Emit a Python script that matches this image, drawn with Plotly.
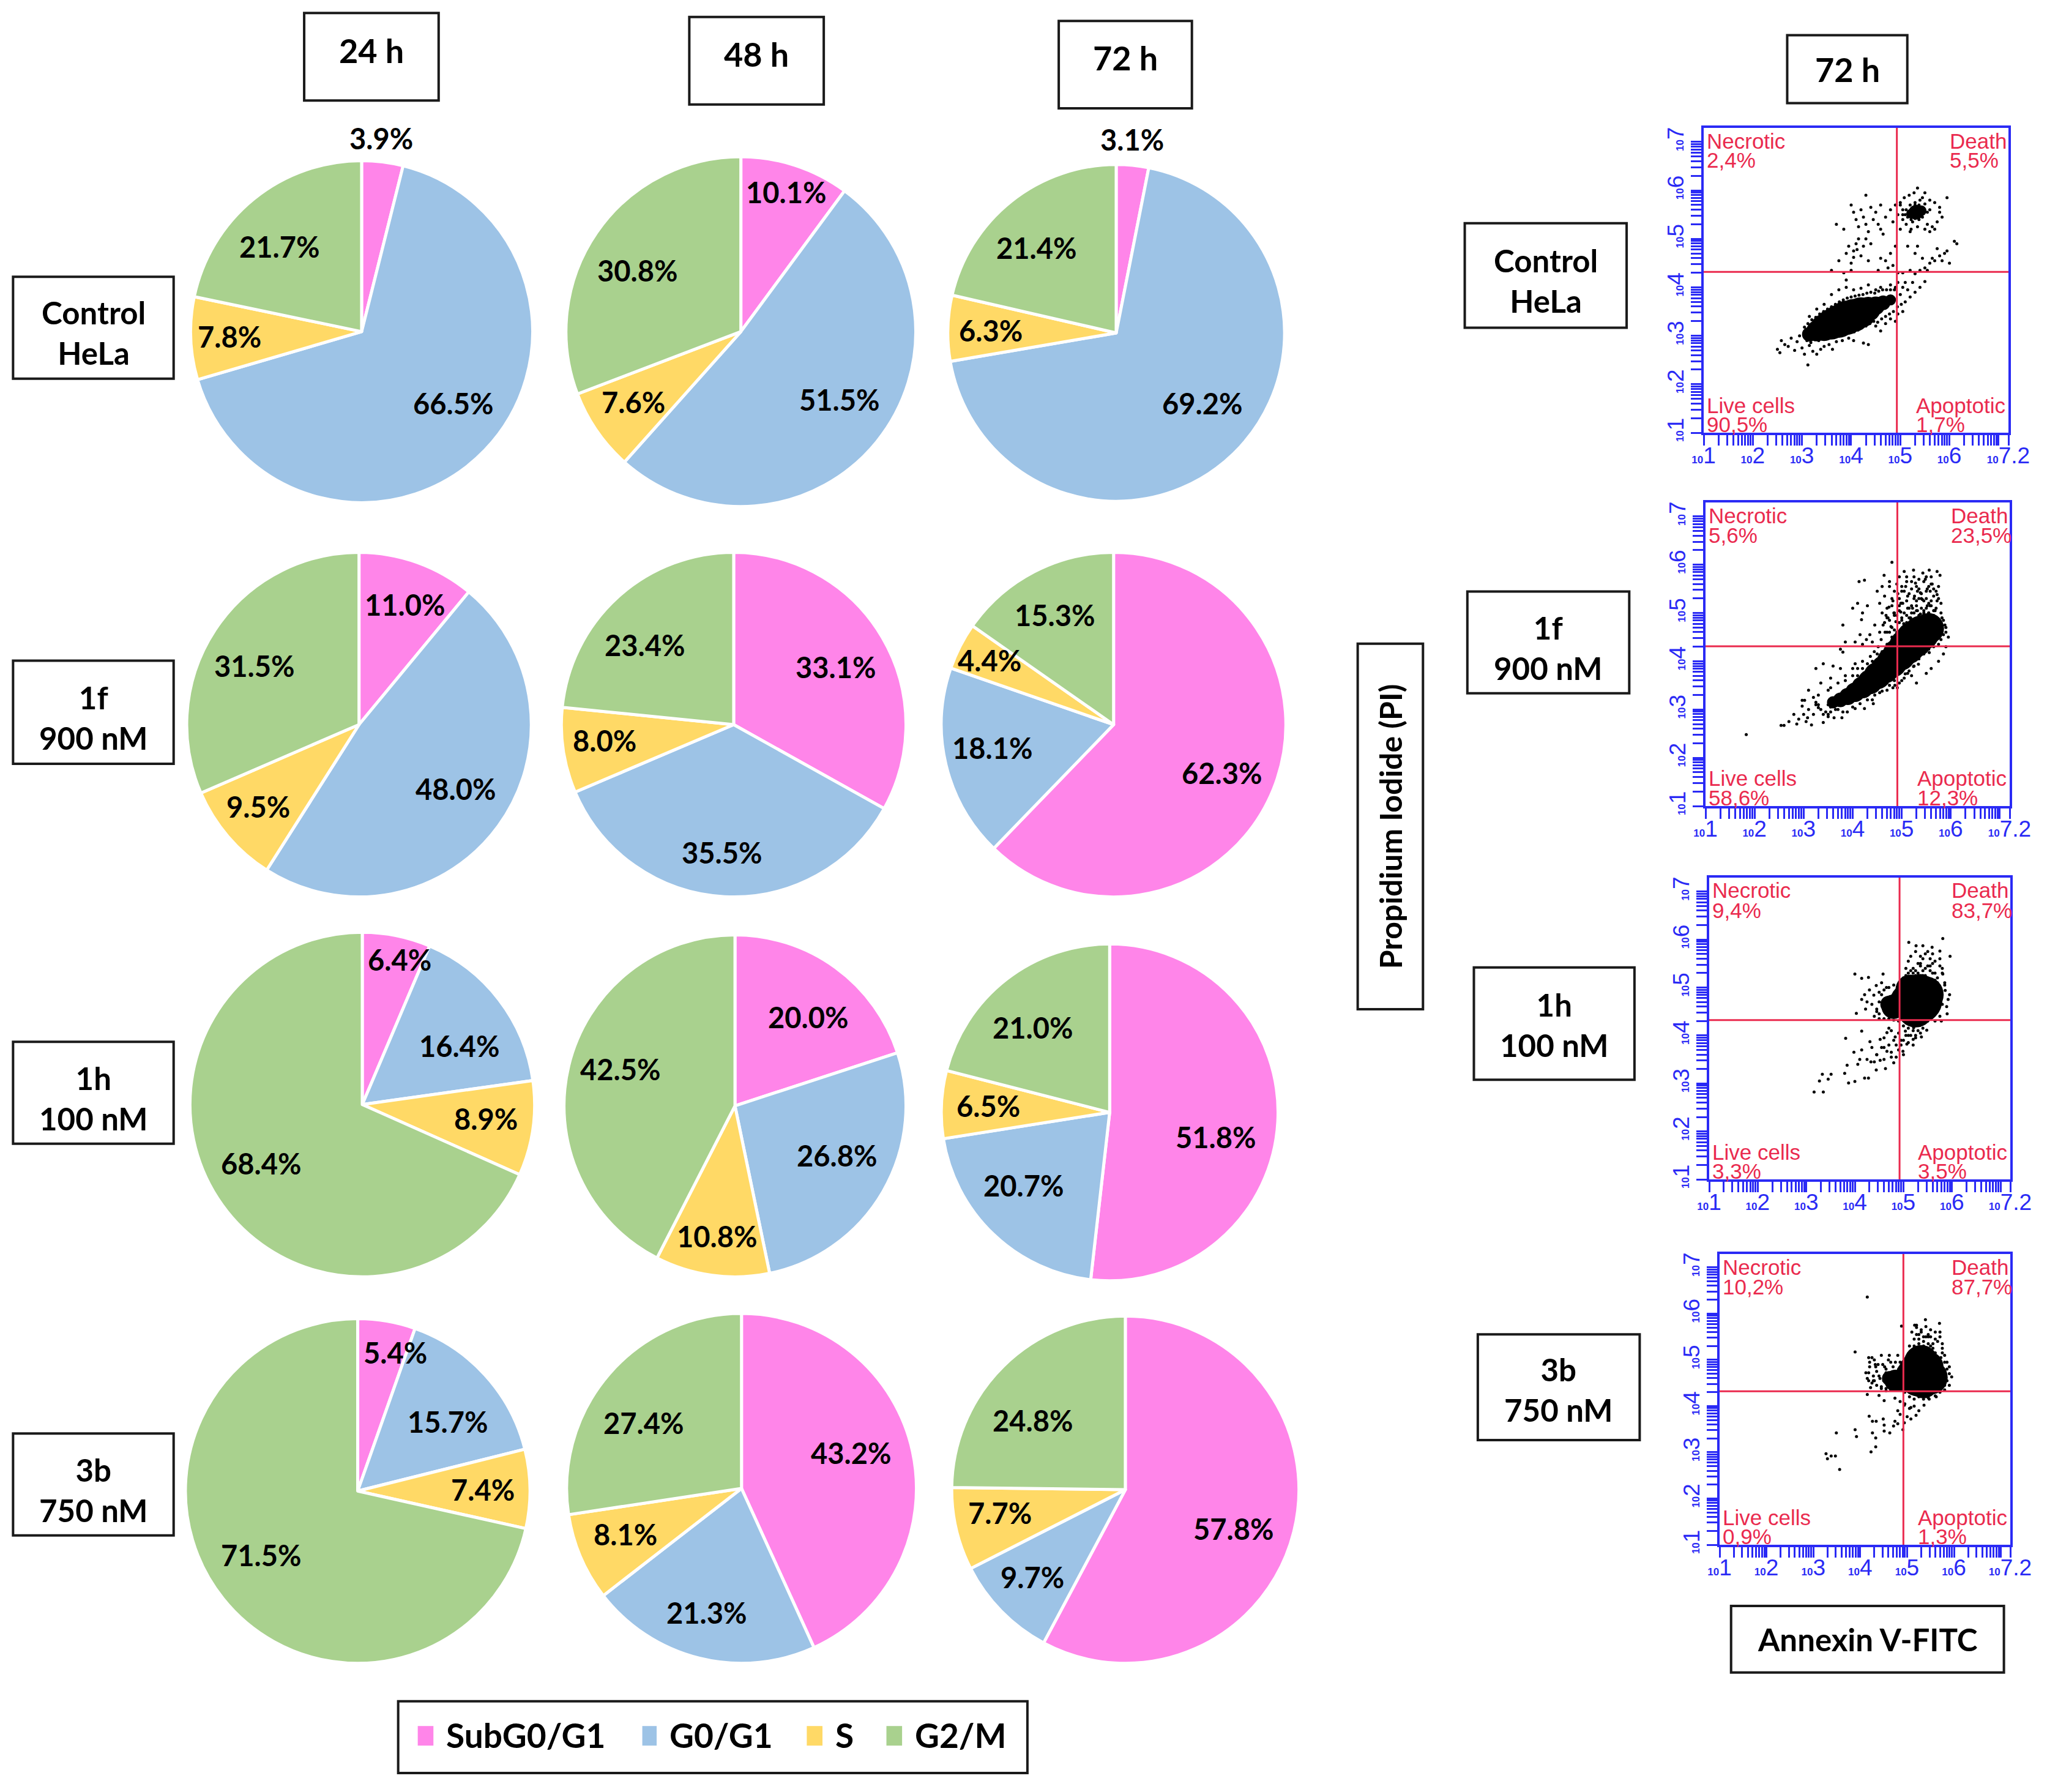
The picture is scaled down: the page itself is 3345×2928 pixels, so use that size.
import plotly.graph_objects as go

W, H = 3345, 2928
S = W / 1568  # reference overview scale used for the layout measurements

phases = ["SubG0/G1", "G0/G1", "S", "G2/M"]
phase_colors = ["#FF85E9", "#9DC3E6", "#FFD966", "#A9D18E"]
times = ["24 h", "48 h", "72 h"]
conditions = ["Control<br>HeLa", "1f<br>900 nM", "1h<br>100 nM", "3b<br>750 nM"]

ctrl_24 = [3.9, 66.5, 7.8, 21.7]
ctrl_48 = [10.1, 51.5, 7.6, 30.8]
ctrl_72 = [3.1, 69.2, 6.3, 21.4]
f1_24 = [11.0, 48.0, 9.5, 31.5]
f1_48 = [33.1, 35.5, 8.0, 23.4]
f1_72 = [62.3, 18.1, 4.4, 15.3]
h1_24 = [6.4, 16.4, 8.9, 68.4]
h1_48 = [20.0, 26.8, 10.8, 42.5]
h1_72 = [51.8, 20.7, 6.5, 21.0]
b3_24 = [5.4, 15.7, 7.4, 71.5]
b3_48 = [43.2, 21.3, 8.1, 27.4]
b3_72 = [57.8, 9.7, 7.7, 24.8]
pie_values = [ctrl_24, ctrl_48, ctrl_72, f1_24, f1_48, f1_72,
              h1_24, h1_48, h1_72, b3_24, b3_48, b3_72]

# pie geometry: centre x, centre y, radius
pie_geom = [(277, 254, 131), (567.5, 254, 134), (855, 255, 129),
            (275, 555, 132), (562, 555, 132), (853, 555, 132),
            (277.5, 846, 132), (563, 847, 131), (850, 852, 129),
            (274, 1142, 132), (568, 1140, 134), (862, 1141, 133)]
# slice label positions
pie_label_pos = [
    [(292, 106), (347, 309), (176, 258), (214, 189)],
    [(602, 147), (643, 306), (485, 308), (488, 207)],
    [(867, 107), (921, 309), (759, 253), (794, 190)],
    [(310, 463), (349, 604), (198, 618), (195, 510)],
    [(640, 511), (553, 653), (463, 567), (494, 494)],
    [(936, 592), (760, 573), (758, 506), (808, 471)],
    [(306, 735), (352, 801), (372, 857), (200, 891)],
    [(619, 779), (641, 885), (549, 947), (475, 819)],
    [(931, 871), (784, 908), (757, 847), (791, 787)],
    [(303, 1036), (343, 1089), (370, 1141), (200, 1191)],
    [(652, 1113), (541, 1235), (479, 1175), (493, 1090)],
    [(945, 1171), (791, 1208), (766, 1159), (791, 1088)],
]

# boxed titles: text, x0, y0, x1, y1, font size, text shift
boxes = [
    (times[0], 233, 10, 336, 77, 54, -5), (times[1], 528, 13, 631, 80, 54, -5), (times[2], 811, 16, 913, 83, 54, -5),
    (conditions[0], 10, 212, 133, 290, 51, 4), (conditions[1], 10, 506, 133, 585, 51, 4),
    (conditions[2], 10, 798, 133, 876, 51, 4), (conditions[3], 10, 1098, 133, 1176, 51, 4),
    ("72 h", 1369, 27, 1461, 79, 54, 0),
    (conditions[0], 1122, 171, 1246, 251, 51, 4), (conditions[1], 1124, 453, 1248, 531, 51, 4),
    (conditions[2], 1129, 741, 1252, 827, 51, 1), (conditions[3], 1132, 1022, 1256, 1103, 51, 2),
    ("Annexin V-FITC", 1326, 1230, 1535, 1281, 51, 0),
]
legend_box = (305, 1303, 787, 1358)
pi_box = (1040, 493, 1090, 773)
pi_title = "Propidium Iodide (PI)"
swatches = [(320, 332), (492, 503), (618, 630), (679, 691)]
legend_text_x = [341, 512, 639, 700]

# flow cytometry panels: pixel frame left, top, right, bottom
flow_frames = [(2784, 209, 3282, 707), (2787, 821, 3284, 1317),
               (2793, 1434, 3285, 1927), (2810, 2049, 3285, 2524)]
quadrant_names = ["Necrotic", "Death", "Live cells", "Apoptotic"]
flow_pct = [["2,4%", "5,5%", "90,5%", "1,7%"], ["5,6%", "23,5%", "58,6%", "12,3%"],
            ["9,4%", "83,7%", "3,3%", "3,5%"], ["10,2%", "87,7%", "0,9%", "1,3%"]]
gate_x = [4.93, 4.91, 4.92, 4.92]
gate_y = [4.32, 4.31, 4.32, 4.32]

# event positions in decades (log10 of signal)
dots1_x = [2.5,2.55,2.58,2.65,2.72,2.78,2.85,2.9,2.95,3.0,3.05,3.12,3.15,3.22,3.3,3.38,3.45,3.55,3.62,3.7,3.82,3.95,4.05,4.25,4.35,
           3.15,3.3,3.45,3.6,3.75,3.9,4.05,4.2,4.35,4.5,4.6,
           4.5,4.6,4.7,4.8,4.9,4.95,5.05,5.1,5.2,5.15,5.3,5.4,5.05,5.0,4.9,4.8,4.95,5.1,5.25,5.5,
           4.95,5.05,5.2,5.3,5.4,5.5,5.6,5.7,5.65,5.8,5.9,5.95,5.75,5.85,5.55,5.45,5.3,5.15,5.35,6.0,6.1,6.15,
           3.6,3.85,3.9,4.0,3.75,3.9,3.95,4.0,4.05,4.1,4.15,4.2,4.25,4.3,4.35,4.05,4.12,4.4,3.7,3.85,4.55,4.6,4.7,4.75,4.8,4.9,4.85,
           4.0,4.05,4.1,4.15,4.2,4.25,4.3,4.35,4.4,4.45,4.3,4.5,4.55,4.6,4.65,4.7,4.8,4.85,4.9,4.95,5.0,5.05,4.6,
           5.0,5.08,5.12,5.18,5.22,5.28,5.35,5.4,5.45,5.5,5.55,5.6,5.65,5.7,5.75,5.8,5.85,5.95,5.5,5.35,5.2,5.05,5.6,5.7,5.25,5.1,5.3,5.45,5.8,
           3.05,3.12,3.2,3.28,3.36,3.44,3.52,3.6,3.68,3.76,3.84,3.92,4.0,4.08,4.16,4.24,4.32,4.4,4.48,4.56,4.64,4.72,4.8,4.88,
           3.1,3.18,3.26,3.34,3.42,3.5,3.58,3.66,3.74,3.82,3.9,3.98,4.06,4.14,4.22,4.3,4.38,4.46,4.54,4.62,4.7,4.78,4.86,4.94,5.02,
           5.2,5.25,5.3,5.38,5.45,5.5,5.55,5.6,5.15,5.22,5.3,5.38,5.45,5.12,5.05,5.0]
dots1_y = [2.72,2.65,2.9,2.82,2.78,2.95,2.7,2.88,3.0,2.75,2.62,2.4,2.8,2.68,2.62,2.72,2.78,2.82,2.72,2.88,2.9,2.95,2.9,2.85,2.82,
           3.4,3.55,3.65,3.85,3.95,4.0,3.95,3.98,4.05,3.95,4.0,
           3.2,3.1,3.25,3.35,3.3,3.45,3.5,3.7,3.8,3.95,3.9,4.0,4.0,3.85,4.0,4.05,4.1,4.1,4.1,4.12,
           4.3,4.3,4.35,4.28,4.35,4.4,4.5,4.55,4.6,4.65,4.7,4.75,4.8,4.55,4.35,4.6,4.7,4.85,4.85,4.5,4.95,4.9,
           4.35,4.3,4.15,4.35,4.55,4.7,4.85,4.5,4.75,4.9,5.0,4.65,4.85,5.0,4.55,4.62,4.78,4.9,5.3,5.2,4.35,4.6,4.55,4.4,4.7,4.85,4.45,
           5.7,5.55,5.4,5.25,5.6,5.45,5.3,5.15,5.65,5.4,5.9,5.55,5.3,5.7,5.1,5.45,5.6,5.35,5.7,5.5,5.2,5.6,5.2,
           5.75,5.85,5.3,5.9,5.2,5.95,5.25,5.8,5.85,5.2,5.3,5.8,5.25,5.75,5.35,5.65,5.45,5.85,5.95,6.05,5.15,5.4,5.15,5.2,5.35,5.5,5.7,5.65,5.55,
           3.18,3.25,3.33,3.38,3.45,3.5,3.55,3.6,3.65,3.7,3.74,3.78,3.8,3.82,3.84,3.85,3.88,3.9,3.88,3.92,3.95,3.95,3.95,3.95,
           2.9,2.86,2.92,2.9,2.95,3.0,2.96,3.0,3.02,3.05,3.08,3.1,3.08,3.12,3.18,3.2,3.25,3.3,3.28,3.35,3.4,3.45,3.5,3.6,3.65,
           5.7,5.62,5.75,5.7,5.65,5.72,5.55,5.6,5.45,5.4,5.42,5.4,5.45,5.6,5.5,5.7]
core1_x = [3.15, 3.3, 3.45, 3.6, 3.75, 3.9, 4.05, 4.2, 4.35, 4.5, 4.65, 4.8, 5.32, 5.42, 5.22]
core1_y = [3.03, 3.1, 3.17, 3.24, 3.3, 3.37, 3.42, 3.48, 3.55, 3.62, 3.68, 3.74, 5.55, 5.58, 5.52]
core1_s = [24, 34, 44, 50, 54, 56, 54, 50, 40, 30, 24, 18, 24, 18, 16]

dots2_x = [4.8,4.13,4.24,4.64,5.05,5.24,5.43,5.56,5.72,
           4.5,4.55,4.6,4.65,4.7,4.75,4.8,4.85,4.9,4.95,5.0,5.0,5.05,5.1,5.15,5.2,5.25,5.3,5.35,5.4,5.45,5.5,5.55,5.6,5.65,5.7,5.75,5.8,5.85,5.9,5.95,5.9,5.85,5.75,5.6,5.5,5.3,5.2,
           4.18,4.1,4.2,4.3,4.0,3.8,4.35,4.15,4.05,3.85,3.75,3.8,4.2,4.4,4.55,4.65,4.45,
           3.4,3.25,3.6,3.75,3.85,4.0,4.1,4.2,4.05,3.55,3.5,3.3,
           1.83,2.54,2.6,2.8,2.86,2.97,3.08,3.16,3.3,3.4,3.5,3.62,3.78,3.89,4.05,4.24,4.42,4.7,4.86,4.91,5.07,5.24,5.34,5.56,2.97,3.02,
           4.4,4.55,4.7,4.82,5.0,5.12,4.75,4.85,4.95,5.05,5.15,5.25,5.35,5.45,5.55,5.65,4.7,4.8,4.9,5.0,5.1,5.2,5.3,5.4,5.5,5.6,5.7,5.8,
           3.3,3.45,3.55,3.65,3.2,3.1,3.35,3.25,3.5,3.6,
           4.0,4.15,4.3,4.45,4.6,4.75,4.85,4.95,5.05,5.15,5.25,5.35,5.45,5.55,5.65,5.75,5.8,5.85,5.9,5.88,5.82,
           3.55,3.7,3.85,4.0,4.1,4.2,4.3,4.4,4.5,4.6,4.7,4.8,4.85,4.75,4.95,5.0,4.9,5.1,5.2,5.3,5.45,5.55,5.65,
           4.75,4.85,4.95,5.05,5.1,5.15,5.2,5.25,5.3,5.35,5.4,5.45,5.5,5.55,5.6,5.65,5.7,5.75,5.8,5.0,5.1,5.2,5.35,5.5,5.6,4.95,4.8,4.7,4.6,
           3.0,3.1,3.2,3.25,3.35,3.4,3.5,3.55,3.7,3.8,2.7,2.9,3.05,
           4.62,4.68,4.74,4.82,4.88,4.92,4.98,5.02,5.08,5.12,5.18,5.22,5.28,5.32,5.38,5.42,5.48,5.52,5.58,5.62,5.68,5.72,5.78,
           4.58,4.66,4.72,4.78,4.84,4.92,4.98,5.04,5.12,5.18,5.26,5.32,5.38,5.44,5.52,5.58,5.66,5.72,4.52,4.44,4.36,4.28]
dots2_y = [6.05,5.65,5.68,5.78,5.86,5.89,5.83,5.89,5.86,
           5.45,5.2,5.55,5.35,5.1,5.55,5.3,5.0,5.6,5.75,5.45,5.2,5.0,5.65,5.4,5.15,5.75,5.55,5.3,5.1,5.65,5.45,5.2,5.6,5.35,5.1,5.3,5.0,4.85,4.7,4.5,4.3,4.15,4.0,3.85,3.75,3.55,3.7,
           4.86,5.2,5.0,5.15,5.1,4.75,4.55,4.55,4.4,4.4,4.25,4.19,4.35,4.4,4.6,4.8,4.75,
           3.95,3.85,3.9,3.85,3.7,3.85,3.7,4.0,3.95,3.65,3.4,3.3,
           2.48,2.67,2.67,2.9,2.7,3.07,2.83,2.68,3.04,2.73,2.9,2.83,2.83,2.95,3.02,3.02,3.12,3.4,3.5,3.45,3.74,3.89,3.94,4.18,3.19,3.19,
           3.2,3.35,3.55,3.45,3.6,3.75,4.85,4.95,5.05,4.75,4.9,5.0,4.95,5.05,5.0,5.05,4.6,4.7,4.6,4.85,4.8,4.85,5.15,5.3,5.3,5.25,4.9,4.6,
           3.1,2.95,3.05,3.0,3.25,3.4,3.55,3.15,2.85,3.1,
           3.05,3.12,3.2,3.3,3.38,3.5,3.6,3.55,3.65,3.8,3.9,4.05,4.15,4.25,4.3,4.35,4.45,4.55,4.6,4.75,4.9,
           3.45,3.55,3.6,3.7,3.85,3.85,3.95,4.0,4.15,4.2,4.35,4.5,4.65,4.6,4.8,4.9,4.95,4.95,5.0,5.05,5.0,5.0,4.95,
           5.65,5.45,5.3,5.45,5.25,5.1,5.5,5.3,5.25,5.5,5.4,5.25,5.1,5.55,5.15,5.5,5.45,5.55,5.2,5.55,5.75,5.65,5.7,5.75,5.75,5.15,5.15,4.9,5.0,
           2.9,3.0,2.9,3.1,3.0,2.9,3.1,2.95,3.0,2.95,2.75,2.8,2.75,
           4.75,4.95,5.12,5.25,4.82,5.4,5.02,5.2,5.55,5.35,4.9,5.1,5.62,5.45,4.98,5.28,5.7,5.5,5.15,5.6,5.05,5.38,5.78,
           4.45,4.6,4.9,4.72,5.0,4.55,5.2,4.78,5.1,4.88,5.35,5.05,5.42,4.95,5.15,5.45,5.05,5.25,4.3,4.2,4.1,4.45]
core2_x = [3.6, 3.75, 3.9, 4.05, 4.2, 4.35, 4.5, 4.65, 4.8, 4.95, 5.1, 5.25, 5.4, 5.55]
core2_y = [3.15, 3.2, 3.27, 3.36, 3.46, 3.57, 3.7, 3.83, 3.98, 4.14, 4.3, 4.45, 4.58, 4.68]
core2_s = [20, 24, 28, 32, 36, 40, 44, 46, 50, 54, 58, 60, 58, 50]

dots3_x = [5.81,5.11,5.26,5.4,5.59,5.75,5.96,
           5.05,5.1,5.15,5.2,5.25,5.3,5.35,5.4,5.45,5.5,5.55,5.6,5.65,5.7,5.75,5.8,5.85,5.15,5.25,5.35,5.45,5.55,5.65,5.75,5.1,5.2,5.3,5.4,5.5,5.6,5.7,5.8,
           4.0,4.14,4.28,4.58,4.14,4.03,4.22,4.39,4.44,4.3,4.35,4.45,4.5,4.55,4.6,4.65,4.25,4.4,4.2,4.5,
           4.14,3.81,3.98,4.14,3.84,3.79,3.87,4.0,4.06,4.2,4.28,4.44,4.63,4.8,4.33,4.52,4.66,4.75,4.31,4.52,4.66,4.83,4.99,5.07,5.2,5.37,5.48,5.04,5.21,5.34,4.85,4.95,5.1,5.25,5.4,4.6,4.45,4.7,
           3.16,3.35,3.27,3.45,3.33,3.51,
           5.92,5.86,5.89,5.75,5.81,5.85,5.95,5.9,5.78,5.8,
           5.6,5.55,5.65,5.7,5.72,5.75,5.7,5.65,5.5,5.4,5.3,5.2,5.1,5.0,4.9,4.8,4.7,4.6,4.5,4.45,4.5,4.55,4.6,4.7,4.8,4.9,5.0,5.05,5.1,5.15,5.2,5.25,5.3,5.35,5.4,5.45,5.5,5.55,5.6,5.65,
           5.0,5.1,5.2,5.3,5.4,5.05,5.15,5.25,5.35,5.0,5.1,5.2,4.95,4.9,5.0,4.85,4.75,4.7,4.8,4.9,4.75,4.6,4.55,4.45,4.35,4.25,4.1,4.6,4.4]
dots3_y = [6.02,5.94,5.87,5.87,5.84,5.76,5.65,
           5.4,5.55,5.65,5.3,5.75,5.5,5.65,5.35,5.7,5.45,5.6,5.3,5.55,5.2,5.45,5.3,5.05,5.2,5.35,5.5,5.25,5.45,5.15,5.6,5.1,5.0,5.2,5.6,5.75,5.7,5.0,5.4,
           5.28,5.19,5.21,5.28,4.75,4.46,4.55,4.84,5.04,4.95,4.65,4.5,4.9,5.1,4.7,5.0,4.7,4.4,4.85,4.35,
           4.09,3.94,3.65,3.7,3.38,3.21,3.01,3.04,3.4,3.11,3.11,3.28,3.31,3.43,3.45,3.48,3.67,3.55,3.87,3.92,4.06,3.97,3.67,3.82,3.92,3.97,4.11,4.09,4.16,4.21,3.8,3.9,4.0,3.95,4.25,3.75,3.6,4.15,
           2.82,2.82,3.05,3.09,3.19,3.19,
           4.75,4.94,4.6,4.4,5.28,5.1,4.85,4.45,4.3,4.65,
           4.4,4.35,4.5,4.6,4.8,4.95,5.1,4.3,4.3,4.32,4.3,4.3,4.35,4.35,4.3,4.32,4.35,4.35,4.45,4.55,4.7,4.85,4.95,5.0,5.05,5.05,5.2,5.25,5.3,5.35,5.4,5.25,5.3,5.45,5.25,5.4,5.2,5.35,5.5,5.3,
           4.2,4.15,4.1,4.1,4.15,4.0,4.0,4.0,4.05,3.9,3.85,3.8,3.8,3.7,3.6,3.55,3.65,3.8,3.9,4.05,4.1,3.95,3.75,3.6,3.75,3.5,3.5,3.5,3.45]
core3_x = [5.3, 5.1, 5.45, 5.25, 5.45, 5.15, 4.8, 4.7, 5.35]
core3_y = [4.75, 4.7, 4.85, 4.55, 4.55, 4.95, 4.6, 4.65, 5.0]
core3_s = [80, 60, 60, 60, 40, 50, 40, 28, 44]

dots4_x = [4.15,3.89,4.88,5.39,5.69,5.16,
           3.49,3.89,3.92,3.27,3.3,3.38,3.47,3.56,4.23,4.33,4.33,4.26,4.19,4.26,4.34,4.49,4.51,4.51,4.63,4.71,4.8,4.91,4.94,4.74,4.8,4.85,5.0,5.08,5.19,5.25,4.94,5.08,5.36,5.47,5.62,4.15,4.4,4.51,4.74,
           4.15,4.2,4.25,4.3,4.35,4.18,4.28,4.38,4.45,4.5,4.55,4.6,4.65,4.7,4.75,4.8,4.85,4.22,4.32,4.42,4.52,4.62,4.72,4.82,4.18,4.35,4.55,4.75,4.3,4.45,
           5.0,5.05,5.1,5.15,5.2,5.25,5.3,5.35,5.4,5.45,5.5,5.55,5.6,5.65,5.7,5.75,5.8,5.85,5.9,5.95,5.9,5.8,5.7,5.6,5.5,5.2,5.3,5.4,5.5,5.6,5.1,5.05,5.72,5.82,5.15,5.45,5.25,5.35,
           5.0,5.1,5.2,5.3,5.4,5.5,5.6,5.7,5.8,5.85,5.9,5.85,5.8,5.75,5.75,5.7,5.6,5.55,5.5,5.45,5.4,5.35,5.3,5.25,5.2,5.15,5.1,5.05,5.0,4.95,4.9,4.85,4.8,4.7,4.65,4.55,4.48,4.4,4.33,4.28,4.25,4.2,4.18,4.12,4.45,4.55,4.65,4.75,4.85,4.95,5.05,5.15,5.25,5.35,5.45,4.85,4.95,5.05,5.15]
dots4_y = [6.36,5.17,5.73,5.87,5.79,5.75,
           3.42,3.49,3.34,2.97,2.86,2.92,2.92,2.63,3.01,3.12,3.31,3.42,3.78,3.67,3.67,3.72,3.59,3.46,3.42,3.57,3.62,3.49,3.64,3.67,3.9,3.82,3.77,3.72,3.8,3.9,4.02,3.97,4.02,4.15,4.2,4.25,4.23,4.12,4.17,
           4.6,4.85,4.5,5.0,4.75,5.05,4.65,4.9,5.1,4.55,4.8,5.0,4.45,4.7,4.95,5.1,4.55,4.4,4.9,4.6,4.85,5.1,4.35,4.8,4.72,4.45,4.38,4.62,4.55,4.42,
           5.05,5.3,5.6,5.2,5.7,5.45,5.65,5.3,5.72,5.5,5.65,5.35,5.6,5.4,5.5,5.25,5.1,4.95,4.85,4.63,4.45,4.35,4.3,4.22,4.25,5.75,5.1,5.2,5.3,5.15,4.9,4.75,5.05,4.65,5.45,5.55,5.55,5.5,
           4.4,4.35,4.38,4.35,4.3,4.35,4.35,4.4,4.45,4.55,4.7,4.8,4.95,5.15,5.35,5.6,5.45,5.25,5.5,5.35,5.5,5.4,5.6,5.35,5.55,5.3,5.15,5.1,4.95,4.9,4.8,4.95,4.72,4.85,4.95,4.72,4.9,4.65,4.85,4.55,5.05,4.95,4.55,4.72,4.38,4.33,4.35,4.35,4.38,4.3,4.2,4.15,4.2,4.15,4.18,4.1,4.05,3.95,4.0]
core4_x = [5.3, 5.12, 5.5, 5.3, 5.2, 5.45, 4.75, 4.62, 4.9, 5.65, 5.35]
core4_y = [4.7, 4.65, 4.62, 4.95, 4.55, 4.85, 4.55, 4.6, 4.55, 4.58, 4.5]
core4_s = [76, 56, 56, 56, 50, 50, 36, 24, 34, 30, 50]

flow_data = [(dots1_x, dots1_y, core1_x, core1_y, core1_s),
             (dots2_x, dots2_y, core2_x, core2_y, core2_s),
             (dots3_x, dots3_y, core3_x, core3_y, core3_s),
             (dots4_x, dots4_y, core4_x, core4_y, core4_s)]

BLUE = "#2A2AF5"
RED = "#EA2A4E"
SANS = "Lato"
ARIAL = "Liberation Sans"
INK = "#000000"


def px(x):
    return x / W


def py(y):
    return 1 - y / H


def box_shape(x0, y0, x1, y1):
    return dict(type="rect", xref="paper", yref="paper",
                x0=px(x0 * S), x1=px(x1 * S), y0=py(y0 * S), y1=py(y1 * S),
                line=dict(color="#1a1a1a", width=4), fillcolor="rgba(255,255,255,0)")


def label(x, y, text, size, **kw):
    return dict(xref="paper", yref="paper", x=px(x), y=py(y), text=text, showarrow=False,
                xanchor=kw.pop("xanchor", "center"), yanchor="middle",
                font=dict(family=kw.pop("family", SANS), size=size, color=kw.pop("color", INK),
                          weight=kw.pop("weight", 700)), **kw)


fig = go.Figure()
annotations, shapes = [], []

for vals, (cx, cy, r), lpos in zip(pie_values, pie_geom, pie_label_pos):
    fig.add_trace(go.Pie(
        labels=phases, values=vals, sort=False, direction="clockwise", rotation=0,
        textinfo="none", hoverinfo="label+value", showlegend=False,
        marker=dict(colors=phase_colors, line=dict(color="white", width=5)),
        domain=dict(x=[px((cx - r) * S), px((cx + r) * S)], y=[py((cy + r) * S), py((cy - r) * S)]),
    ))
    for v, (lx, ly) in zip(vals, lpos):
        annotations.append(label(lx * S, ly * S, f"{v:.1f}%", 47))

for text, x0, y0, x1, y1, size, dy in boxes:
    shapes.append(box_shape(x0, y0, x1, y1))
    annotations.append(label((x0 + x1) / 2 * S, ((y0 + y1) / 2 + dy) * S, text, size))
shapes.append(box_shape(*pi_box))
annotations.append(label((pi_box[0] + pi_box[2]) / 2 * S, (pi_box[1] + pi_box[3]) / 2 * S, pi_title, 50, textangle=-90))
shapes.append(box_shape(*legend_box))
for (a, b), c, name, tx in zip(swatches, phase_colors, phases, legend_text_x):
    shapes.append(dict(type="rect", xref="paper", yref="paper", x0=px(a * S), x1=px(b * S),
                       y0=py(1337 * S), y1=py(1322 * S), fillcolor=c, line=dict(width=0)))
    annotations.append(label(tx * S, 1329 * S, name, 55, xanchor="left"))

decade_ticks = [m * 10 ** e for e in range(1, 7) for m in range(1, 10)]
xticks = decade_ticks + [10 ** 7, 10 ** 7.2]
yticks = decade_ticks + [10 ** 7]


def tick_text(exp):
    return f"<span style='font-size:17px;font-weight:700'>10</span><span style='font-size:37px'>{exp}</span>"


xticktext = [tick_text(e) if m == 1 else "" for e in range(1, 7) for m in range(1, 10)] + ["", tick_text("7.2")]
yticktext = [tick_text(e) if m == 1 else "" for e in range(1, 7) for m in range(1, 10)] + [tick_text(7)]

layout_axes = {}
for i, ((dx, dy, cx_, cy_, cs), (L, T, R, B), gx, gy, pct) in enumerate(
        zip(flow_data, flow_frames, gate_x, gate_y, flow_pct), start=1):
    xa, ya = f"x{i}", f"y{i}"
    fig.add_trace(go.Scatter(x=[10 ** v for v in cx_], y=[10 ** v for v in cy_], mode="markers", xaxis=xa, yaxis=ya,
                             marker=dict(color="black", size=cs, opacity=1, line=dict(width=0)),
                             showlegend=False, hoverinfo="skip"))
    fig.add_trace(go.Scatter(x=[10 ** v for v in dx], y=[10 ** v for v in dy], mode="markers", xaxis=xa, yaxis=ya,
                             marker=dict(color="black", size=5, opacity=1, line=dict(width=0)), showlegend=False))
    fig.add_trace(go.Scatter(x=[10 ** gx, 10 ** gx], y=[10 ** 1, 10 ** 7.29], mode="lines", xaxis=xa, yaxis=ya,
                             line=dict(color=RED, width=3), showlegend=False, hoverinfo="skip"))
    fig.add_trace(go.Scatter(x=[10 ** 1, 10 ** 7.2], y=[10 ** gy, 10 ** gy], mode="lines", xaxis=xa, yaxis=ya,
                             line=dict(color=RED, width=3), showlegend=False, hoverinfo="skip"))
    common = dict(type="log", showgrid=False, zeroline=False, showline=True, mirror=True,
                  linecolor=BLUE, linewidth=4, ticks="outside", ticklen=17, tickwidth=3, tickcolor=BLUE,
                  tickmode="array", tickfont=dict(family=ARIAL, color=BLUE, size=31))
    layout_axes[f"xaxis{i}"] = dict(common, domain=[px(L), px(R)], anchor=ya, range=[1, 7.2],
                                    tickvals=xticks, ticktext=xticktext, tickangle=0, ticklabelstandoff=-8)
    layout_axes[f"yaxis{i}"] = dict(common, domain=[py(B), py(T)], anchor=xa, range=[1, 7.29],
                                    tickvals=yticks, ticktext=yticktext, tickangle=-90)
    k = dict(family=ARIAL, color=RED, weight=400)
    tw = (95, 150)
    annotations += [
        label(L + 3, T + 21, quadrant_names[0], 35, xanchor="left", **k),
        label(L + 3, T + 53, pct[0], 35, xanchor="left", **k),
        label(R - 3 - tw[0], T + 21, quadrant_names[1], 35, xanchor="left", **k),
        label(R - 3 - tw[0], T + 53, pct[1], 35, xanchor="left", **k),
        label(L + 3, B - 45, quadrant_names[2], 35, xanchor="left", **k),
        label(L + 3, B - 14, pct[2], 35, xanchor="left", **k),
        label(R - 3 - tw[1], B - 45, quadrant_names[3], 35, xanchor="left", **k),
        label(R - 3 - tw[1], B - 14, pct[3], 35, xanchor="left", **k),
    ]

fig.update_layout(
    width=W, height=H, margin=dict(l=0, r=0, t=0, b=0, autoexpand=False),
    paper_bgcolor="white", plot_bgcolor="white", showlegend=False,
    annotations=annotations, shapes=shapes, **layout_axes,
)

fig.write_html("out.html", config={"displayModeBar": False}, post_script="document.body.style.margin='0';")
